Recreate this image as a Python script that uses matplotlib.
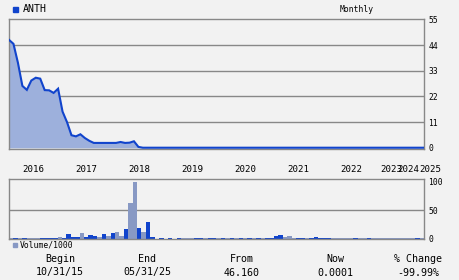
import matplotlib
matplotlib.use("Agg")
import matplotlib.pyplot as plt
import matplotlib.transforms as mtransforms
import numpy as np

# ---------------- data ----------------
ticker = "ANTH"
price = [46.2, 44.5, 36.4, 26.5, 24.8, 28.8, 30.0, 29.6, 24.7, 24.6,
         23.5, 25.3, 15.5, 11.0, 5.4, 4.9, 5.8, 4.2, 3.0, 2.1,
         2.1, 2.1, 2.1, 2.1, 2.1, 2.5, 2.1, 2.2, 2.8, 0.4] + [0.05] * 64
volume = [1.5, 1.5, 1.0, 1.5, 1.0, 2.0, 2.0, 2.0, 2.0, 2.0,
          2.0, 3.0, 1.5, 9.2, 4.0, 4.0, 10.0, 4.0, 7.0, 5.0,
          3.5, 8.6, 5.0, 10.0, 12.0, 5.0, 17.0, 62.0, 98.0, 19.5,
          12.0, 29.0, 3.5, 0.8, 2.0, 0.8, 2.0, 0.8, 2.0, 1.5,
          1.5, 1.5, 2.0, 2.0, 1.5, 2.0, 2.0, 1.5, 2.0, 1.0,
          2.0, 1.5, 2.0, 1.5, 2.0, 1.0, 2.0, 1.0, 2.0, 2.0,
          4.5, 7.0, 3.5, 5.0, 1.0, 2.0, 2.0, 1.0, 2.0, 3.0,
          2.0, 2.0, 2.0, 1.2, 1.2, 1.2, 1.2, 1.2, 2.0, 1.2,
          1.2, 2.0, 1.2, 1.2, 1.2, 1.2, 1.2, 1.2, 1.2, 1.2,
          1.2, 1.2, 2.0, 1.2]
vol_up = [0, 1, 0, 1, 0, 0, 0, 1, 1, 1,
          1, 0, 1, 1, 1, 1, 0, 1, 1, 1,
          0, 1, 0, 1, 0, 0, 1, 0, 0, 1,
          0, 1, 1, 0, 1, 0, 1, 0, 1, 0,
          0, 0, 1, 1, 0, 1, 1, 0, 1, 0,
          1, 0, 1, 0, 1, 0, 1, 0, 1, 1,
          1, 1, 0, 0, 0, 1, 1, 0, 1, 1,
          1, 1, 1, 0, 0, 0, 0, 0, 1, 0,
          0, 1, 0, 0, 0, 0, 0, 0, 0, 0,
          0, 0, 1, 0]
year_labels = ["2016", "2017", "2018", "2019", "2020", "2021", "2022", "2023", "2024", "2025"]
year_pos = [3, 15, 27, 39, 51, 63, 75, 84, 88, 93]
price_ticks = [0, 11, 22, 33, 44, 55]
vol_ticks = [0, 50, 100]
summary_heads = ["Begin", "End", "From", "Now", "% Change"]
summary_vals = ["10/31/15", "05/31/25", "46.160", "0.0001", "-99.99%"]

# ---------------- style ----------------
BG = "#f2f2f2"
BLUE = "#1144cc"
FILL = "#9db0dc"
GREYBAR = "#8899c4"
GRID = "#888888"
MONO = "DejaVu Sans Mono"

W, H = 460, 280
fig = plt.figure(figsize=(W / 100, H / 100), dpi=100, facecolor=BG)

def fx(px):
    return px / W

def fy(py):
    return 1 - py / H

ax = fig.add_axes([fx(9), fy(149), fx(424 - 9), (149 - 19.3) / H])
axv = fig.add_axes([fx(9), fy(239), fx(424 - 9), (239 - 179.3) / H])

n = len(price)
x = np.arange(n)
for a in (ax, axv):
    a.set_facecolor(BG)
    for s in a.spines.values():
        s.set_color(GRID)
        s.set_linewidth(1)
    a.set_xticks([])
    a.yaxis.tick_right()
    a.tick_params(axis="y", length=0, pad=3, labelsize=5.8, colors="black")
ax.set_xlim(0, n - 1)
axv.set_xlim(0, n)

# price panel
ax.set_ylim(-0.5, 55)
ax.set_yticks(price_ticks)
ax.set_yticklabels([str(t) for t in price_ticks], fontfamily=MONO, fontsize=5.8)
for t in price_ticks[1:-1]:
    ax.axhline(t, color=GRID, lw=1, zorder=1)
ax.fill_between(x, price, 0, color=FILL, lw=0, zorder=2)
ax.plot(x, price, color=BLUE, lw=1.5, zorder=3, solid_joinstyle="miter")

# volume panel
axv.set_ylim(0, 103.5)
axv.set_yticks(vol_ticks)
axv.set_yticklabels([str(t) for t in vol_ticks], fontfamily=MONO, fontsize=5.8)
axv.axhline(50, color=GRID, lw=1, zorder=1)
colors = [BLUE if u else GREYBAR for u in vol_up]
axv.bar(x, volume, width=1.0, align="edge", color=colors, lw=0, zorder=2)

# year labels
trans = mtransforms.blended_transform_factory(axv.transData, fig.transFigure)
for lab, p in zip(year_labels, year_pos):
    axv.text(p, fy(170), lab, transform=trans, ha="left", va="center",
             fontsize=6.6, fontfamily=MONO, clip_on=False)

# header
fig.patches.append(plt.Rectangle((fx(13), fy(11.5)), fx(4.5), 4.5 / H,
                                 transform=fig.transFigure, color=BLUE))
fig.text(fx(23), fy(9), ticker, fontsize=7.2, fontfamily=MONO, va="center", ha="left")
fig.text(fx(357), fy(9), "Monthly", fontsize=5.8, fontfamily=MONO, va="center", ha="center")

# volume legend
fig.patches.append(plt.Rectangle((fx(13), fy(247)), fx(4), 4 / H,
                                 transform=fig.transFigure, color=GREYBAR))
fig.text(fx(20), fy(245), "Volume/1000", fontsize=5.8, fontfamily=MONO, va="center", ha="left")

# summary
cols = [60, 147, 242, 335, 418]
for cx, hd, v in zip(cols, summary_heads, summary_vals):
    fig.text(fx(cx), fy(259), hd, fontsize=7.2, fontfamily=MONO, va="center", ha="center")
    fig.text(fx(cx), fy(272.5), v, fontsize=7.2, fontfamily=MONO, va="center", ha="center")

fig.savefig("out.png", dpi=100, facecolor=BG)
